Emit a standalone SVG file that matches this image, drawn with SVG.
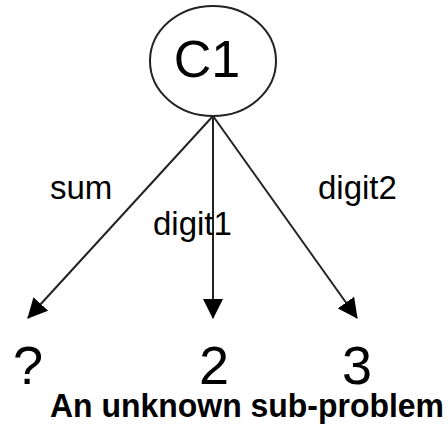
<svg xmlns="http://www.w3.org/2000/svg" width="448" height="429" viewBox="0 0 448 429">
<defs>
<style>
.lbl{font-family:"Liberation Sans",Arial,sans-serif;fill:#000}
.edge{stroke:#222;stroke-width:2;fill:none}
</style>
<marker id="ah" markerUnits="userSpaceOnUse" markerWidth="20" markerHeight="20" refX="19" refY="10" orient="auto" viewBox="0 0 20 20">
<path d="M0,0 L20,10 L0,20 Z" fill="#000"/>
</marker>
</defs>
<rect width="448" height="429" fill="#fff"/>
<g id="connectors">
<line class="edge" x1="213" y1="116" x2="28" y2="318" marker-end="url(#ah)"/>
<line class="edge" x1="213" y1="116" x2="213" y2="318" marker-end="url(#ah)"/>
<line class="edge" x1="213" y1="116" x2="357" y2="318" marker-end="url(#ah)"/>
<text class="lbl" x="50" y="199" font-size="33">sum</text>
<text class="lbl" x="153" y="235" font-size="33">digit1</text>
<text class="lbl" x="318" y="199" font-size="33">digit2</text>
</g>
<g id="C1">
<ellipse cx="213" cy="61" rx="63" ry="55" fill="#fff" stroke="#222" stroke-width="2"/>
<text class="lbl" x="207" y="77" font-size="52" text-anchor="middle">C1</text>
</g>
<g id="q">
<text class="lbl" x="28" y="384" font-size="54" text-anchor="middle">?</text>
</g>
<g id="n2">
<text class="lbl" x="214" y="384" font-size="54" text-anchor="middle">2</text>
</g>
<g id="n3">
<text class="lbl" x="357" y="384" font-size="54" text-anchor="middle">3</text>
</g>
<text class="lbl" x="50" y="417" font-size="33" font-weight="bold" textLength="394" lengthAdjust="spacingAndGlyphs">An unknown sub-problem</text>
</svg>
